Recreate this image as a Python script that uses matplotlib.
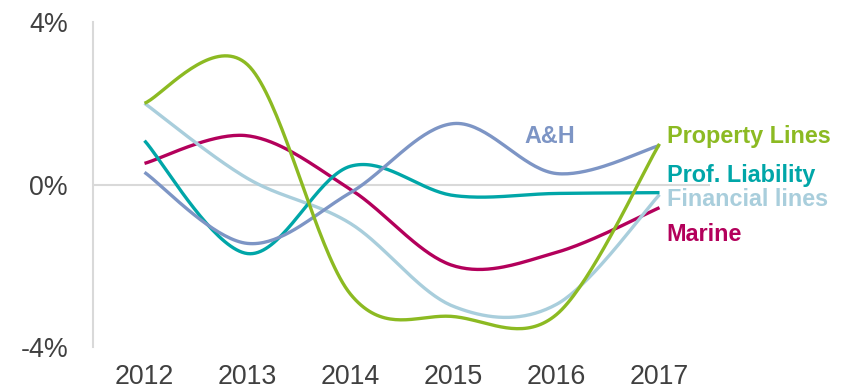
import numpy as np
import matplotlib.pyplot as plt

plt.rcParams['font.family'] = ['Liberation Sans', 'DejaVu Sans']

years = [2012, 2013, 2014, 2015, 2016, 2017]

property_lines = [2.0, 2.95, -2.7, -3.25, -3.2, 1.0]
prof_liability = [1.08, -1.7, 0.45, -0.27, -0.22, -0.2]
financial_lines = [2.0, 0.15, -0.96, -3.0, -2.95, -0.25]
marine = [0.52, 1.2, -0.12, -2.0, -1.67, -0.57]
a_and_h = [0.3, -1.45, -0.2, 1.5, 0.27, 0.96]

series = [
    ("Marine", marine, "#B3005B"),
    ("Financial lines", financial_lines, "#A9CEDC"),
    ("Prof. Liability", prof_liability, "#00A6A8"),
    ("A&H", a_and_h, "#7D95C5"),
    ("Property Lines", property_lines, "#8CBA22"),
]

# label x and baseline y, in data units
label_pos = {
    "A&H": (2015.69, 1.01),
    "Property Lines": (2017.07, 1.01),
    "Prof. Liability": (2017.07, 0.05),
    "Financial lines": (2017.07, -0.52),
    "Marine": (2017.07, -1.38),
}


def smooth(xs, ys, n=40):
    # Catmull-Rom style smoothing through every point
    p = np.column_stack([xs, ys]).astype(float)
    pts = np.vstack([p[0], p, p[-1]])
    out = []
    for i in range(1, len(pts) - 2):
        p0, p1, p2, p3 = pts[i - 1], pts[i], pts[i + 1], pts[i + 2]
        m1 = (p2 - p0) / 2
        m2 = (p3 - p1) / 2
        t = np.linspace(0, 1, n)[:, None]
        h00 = 2 * t**3 - 3 * t**2 + 1
        h10 = t**3 - 2 * t**2 + t
        h01 = -2 * t**3 + 3 * t**2
        h11 = t**3 - t**2
        out.append(h00 * p1 + h10 * m1 + h01 * p2 + h11 * m2)
    c = np.vstack(out)
    return c[:, 0], c[:, 1]


fig = plt.figure(figsize=(8.44, 3.91), dpi=100)
ax = fig.add_axes([0.1102, 0.1125, 0.731, 0.8312])

ax.axhline(0, color="#D9D9D9", lw=1.5, zorder=1)

for name, vals, col in series:
    sx, sy = smooth(years, vals)
    ax.plot(sx, sy, color=col, lw=2.4, solid_capstyle="butt", zorder=3)
    tx, ty = label_pos[name]
    ax.text(tx, ty, name, color=col, fontsize=16.8, fontweight="bold",
            ha="left", va="baseline")

ax.set_xlim(2011.5, 2017.49)
ax.set_ylim(-4, 4)
ax.set_xticks(years)
ax.set_xticklabels([str(y) for y in years])
ax.set_yticks([-4, 0, 4])
ax.set_yticklabels(["-4%", "0%", "4%"])
ax.tick_params(length=0, labelsize=19.3, colors="#404040")
ax.tick_params(axis="x", pad=12.5)
ax.tick_params(axis="y", pad=18)

for s in ["top", "right", "bottom"]:
    ax.spines[s].set_visible(False)
ax.spines["left"].set_color("#D9D9D9")
ax.spines["left"].set_linewidth(1.5)

fig.savefig("out.png", dpi=100)
